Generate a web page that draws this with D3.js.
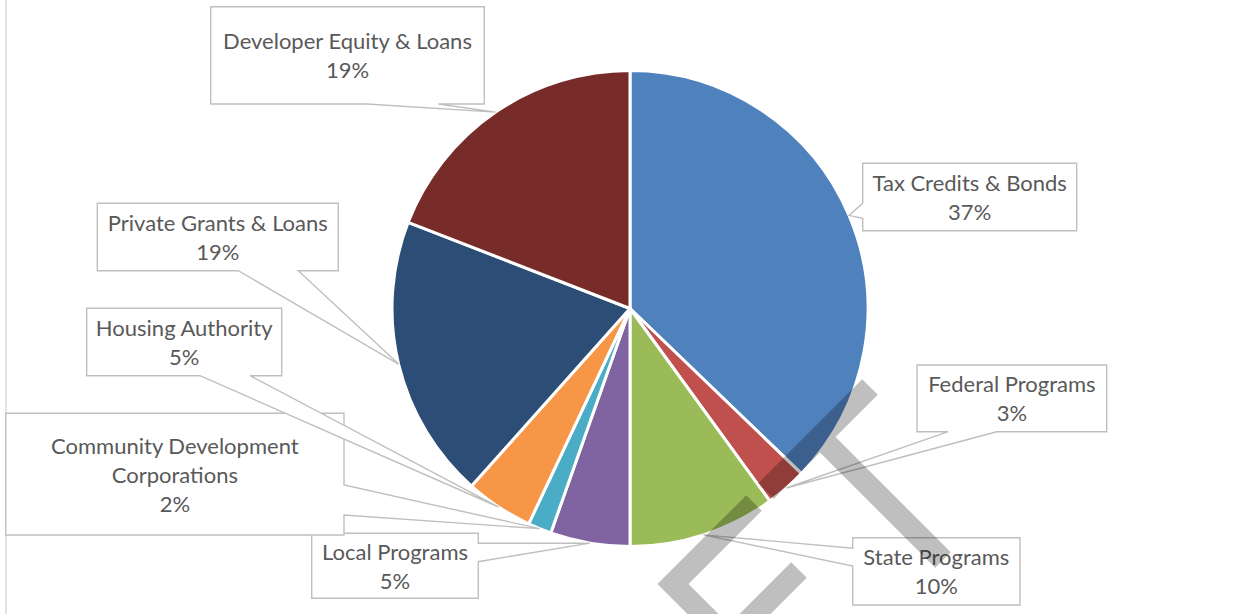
<!DOCTYPE html>
<html>
<head>
<meta charset="utf-8">
<script src="https://cdn.jsdelivr.net/npm/d3@7"></script>
<style>
  html, body { margin: 0; padding: 0; background: #fff; }
  svg { display: block; }
</style>
</head>
<body>
<div id="chart"></div>
<script>
const width = 1254;
const height = 614;

// data
const categories = [
    'Tax Credits & Bonds',
    'Federal Programs',
    'State Programs',
    'Local Programs',
    'Community Development Corporations',
    'Housing Authority',
    'Private Grants & Loans',
    'Developer Equity & Loans'
];
const values = [37.2, 2.8, 10.0, 5.4, 1.6, 4.6, 19.3, 19.1];
const colors = ['#4f81bd', '#c0504d', '#9bbb59', '#8064a2', '#4bacc6', '#f79646', '#2c4d75', '#772c2a'];

// callout boxes: where each label sits and which side the pointer leaves from
const labelBoxes = [
    {x: 862.7, y: 163.3, w: 214, h: 67.4, side: 'left', a: 40, b: 55},
    {x: 917, y: 365, w: 189.7, h: 66.7, side: 'bottom', a: 31.3, b: 79.7},
    {x: 852.7, y: 537.7, w: 167.3, h: 67.3, side: 'left', a: 10.6, b: 28.3},
    {x: 311.7, y: 533.3, w: 166.6, h: 65, side: 'right', a: 10, b: 28.4},
    {x: 5.7, y: 413.3, w: 338.3, h: 121.7, side: 'right', a: 71.7, b: 101.7},
    {x: 86.7, y: 308.3, w: 195, h: 67.4, side: 'bottom', a: 113.3, b: 163.3},
    {x: 97.3, y: 203.3, w: 241, h: 67.4, side: 'bottom', a: 141, b: 201},
    {x: 210.7, y: 6.7, w: 273.6, h: 97.3, side: 'bottom', a: 156, b: 227.6}
];

// grey stamp drawn across the lower right
const watermark = [
    [[870, 387], [766, 491]],
    [[820, 437], [943, 560]],
    [[754, 503], [673, 584], [740, 651]],
    [[799, 570], [719, 650]]
];

const cx = 630;
const cy = 308.5;
const radius = 238;
const fontSize = 22;
const lineGap = 29;
const textColor = '#595959';
const boxColor = '#bfbfbf';

buildChart();

function buildChart() {
    const svg = d3.select('#chart')
        .append('svg')
        .attr('width', width)
        .attr('height', height)
        .style('font-family', 'Lato, "Open Sans", sans-serif');

    // left frame edge
    svg.append('line')
        .attr('x1', 6).attr('x2', 6)
        .attr('y1', 0).attr('y2', height)
        .attr('stroke', '#d9d9d9')
        .attr('stroke-width', 1.5);

    const total = d3.sum(values);
    const pct = d3.format('.0%');

    const pie = d3.pie().sort(null).value((d) => d);
    const arcs = pie(values);

    const arc = d3.arc().innerRadius(0).outerRadius(radius);
    const edge = d3.arc().innerRadius(radius).outerRadius(radius);

    const pieGroup = svg.append('g')
        .attr('transform', `translate(${cx}, ${cy})`);

    pieGroup.selectAll('path')
        .data(arcs)
        .enter()
        .append('path')
        .attr('d', arc)
        .attr('fill', (d, i) => colors[i])
        .attr('stroke', '#fff')
        .attr('stroke-width', 3)
        .attr('stroke-linejoin', 'round');

    // Callouts
    const labels = svg.append('g');

    arcs.forEach((d, i) => {
        const box = labelBoxes[i];
        const c = edge.centroid(d);
        const tip = [cx + c[0], cy + c[1]];
        const {x, y, w, h, a, b} = box;

        const p = d3.path();
        p.moveTo(x, y);
        p.lineTo(x + w, y);
        if (box.side === 'right') {
            p.lineTo(x + w, y + a);
            p.lineTo(tip[0], tip[1]);
            p.lineTo(x + w, y + b);
        }
        p.lineTo(x + w, y + h);
        if (box.side === 'bottom') {
            p.lineTo(x + b, y + h);
            p.lineTo(tip[0], tip[1]);
            p.lineTo(x + a, y + h);
        }
        p.lineTo(x, y + h);
        if (box.side === 'left') {
            p.lineTo(x, y + b);
            p.lineTo(tip[0], tip[1]);
            p.lineTo(x, y + a);
        }
        p.closePath();

        labels.append('path')
            .attr('d', p.toString())
            .attr('fill', '#fff')
            .attr('stroke', boxColor)
            .attr('stroke-width', 1.4);

        const text = labels.append('text')
            .attr('text-anchor', 'middle')
            .attr('fill', textColor)
            .attr('font-size', fontSize);

        const lines = wrap(text, categories[i], w - 6);
        lines.push(pct(values[i] / total));

        const firstY = y + h / 2 - (lines.length - 1) * lineGap / 2 + 8.5;
        text.text(null);
        lines.forEach((line, j) => {
            text.append('tspan')
                .attr('x', x + w / 2)
                .attr('y', firstY + j * lineGap)
                .text(line);
        });
    });

    // Watermark
    const line = d3.line();
    svg.append('path')
        .attr('d', watermark.map((pts) => line(pts)).join(' '))
        .attr('fill', 'none')
        .attr('stroke', '#000')
        .attr('stroke-opacity', 0.25)
        .attr('stroke-width', 22)
        .attr('stroke-linejoin', 'miter')
        .attr('stroke-linecap', 'butt');
}

function wrap(text, label, maxWidth) {
    const words = label.split(' ');
    const lines = [];
    let current = '';
    words.forEach((word) => {
        const test = current ? current + ' ' + word : word;
        text.text(test);
        if (current && text.node().getComputedTextLength() > maxWidth) {
            lines.push(current);
            current = word;
        } else {
            current = test;
        }
    });
    lines.push(current);
    return lines;
}
</script>
</body>
</html>
